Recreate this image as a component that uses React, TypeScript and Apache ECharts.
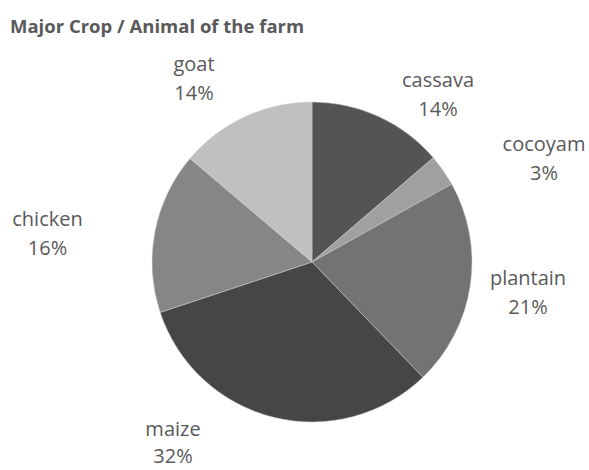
import React, { useEffect, useRef } from "react";
import * as echarts from "echarts";

const titleText = "Major Crop / Animal of the farm";
const categories = ["cassava", "cocoyam", "plantain", "maize", "chicken", "goat"];
const values = [13.7, 3.2, 20.9, 32.1, 16.3, 13.8];
const colors = ["#545454", "#a0a0a0", "#737373", "#464646", "#868686", "#c0c0c0"];
// label centre positions and line heights (layout only)
const labelX = [438, 544, 528, 173, 47.5, 194];
const labelY = [93.5, 157.7, 292, 442, 233.4, 78.4];
const labelLineHeight = [29, 29, 29, 27, 29, 29];

export default function App() {
  const ref = useRef<HTMLDivElement>(null);
  useEffect(() => {
    document.body.style.margin = "0";
    const chart = echarts.init(ref.current!, null, { renderer: "svg" });
    chart.setOption({
      animation: false,
      backgroundColor: "#ffffff",
      title: {
        text: titleText,
        left: 5,
        top: 11,
        textStyle: {
          fontFamily: "Open Sans",
          fontWeight: "bold",
          fontSize: 18.5,
          color: "#595959",
        },
      },
      series: [
        {
          type: "pie",
          center: [312, 262],
          radius: 160,
          startAngle: 90,
          clockwise: true,
          percentPrecision: 0,
          data: categories.map((c, i) => ({
            name: c,
            value: values[i],
            itemStyle: { color: colors[i] },
            label: { lineHeight: labelLineHeight[i] },
          })),
          itemStyle: { borderColor: "#cfcfcf", borderWidth: 0.5 },
          label: {
            show: true,
            position: "outside",
            formatter: "{b}\n{d}%",
            fontFamily: "Open Sans",
            fontSize: 20,
            lineHeight: 29,
            color: "#595959",
            align: "center",
            overflow: "none",
          },
          labelLine: { show: false },
          labelLayout: (params: any) => ({
            x: labelX[params.dataIndex],
            y: labelY[params.dataIndex],
            align: "center",
            verticalAlign: "middle",
          }),
          emphasis: { disabled: true },
        },
      ],
    });
    return () => chart.dispose();
  }, []);
  return <div ref={ref} style={{ width: 589, height: 470 }} />;
}
